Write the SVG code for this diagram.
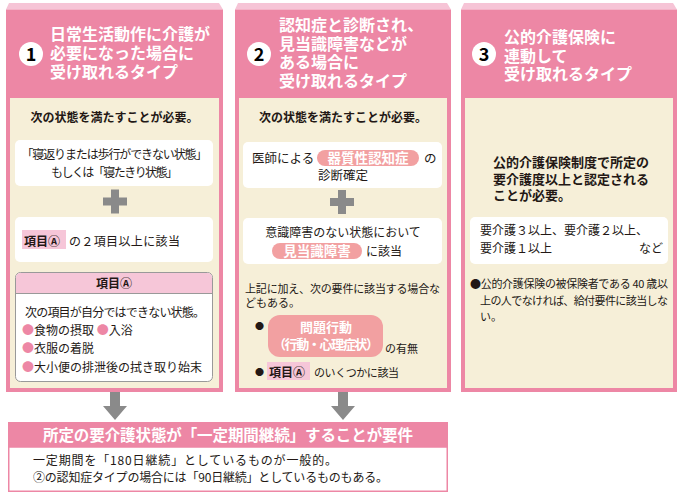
<svg xmlns="http://www.w3.org/2000/svg" width="681" height="498" viewBox="0 0 681 498">
<style>
text{font-family:"Noto Sans CJK JP","Noto Sans",sans-serif;fill:#231815}
.h{font-size:16px;font-weight:bold;fill:#fff}
.num{font-size:18px;font-weight:bold;fill:#000;text-anchor:middle}
.b{font-size:12px;font-weight:bold}
.t{font-size:12px}
.s{font-size:11px}
.c{text-anchor:middle}
.w{fill:#fff;font-weight:bold}
.pk{fill:#ED87A5}
.band{fill:#F6C4D6}
.cream{fill:#F6EFD8}
.box{fill:#fff}
.pill{fill:#F2A0A1}
.hl{fill:#F6C6D8}
.gray{fill:#8A8A8A}
.pb{fill:#ED87A5}
</style>

<g id="col1">
<polygon class="band" points="9,3 219,3 223,9.5 6,9.5"/>
<rect class="pk" x="6" y="9.5" width="217" height="382.5"/>
<rect class="cream" x="10" y="98" width="209" height="290"/>
<circle cx="31" cy="54" r="12" fill="#fff"/>
<text class="num" x="31" y="60.5">1</text>
<text class="h" x="50" y="40">日常生活動作に介護が</text>
<text class="h" x="50" y="59">必要になった場合に</text>
<text class="h" x="50" y="78">受け取れるタイプ</text>
<text class="b c" x="114.5" y="122">次の状態を満たすことが必要。</text>
<rect class="box" x="15" y="140" width="198" height="46" rx="5"/>
<text class="t c" x="114.5" y="159" textLength="186">「寝返りまたは歩行ができない状態」</text>
<text class="t c" x="114.5" y="177" textLength="127">もしくは「寝たきり状態」</text>
<rect class="gray" x="103" y="197.5" width="24" height="8"/>
<rect class="gray" x="111" y="189.5" width="8" height="24"/>
<rect class="box" x="15" y="217" width="198" height="45" rx="5"/>
<rect class="hl" x="22" y="230" width="44" height="19"/>
<text class="b" x="24" y="246">項目Ⓐ</text>
<text class="t" x="69" y="246" textLength="111">の２項目以上に該当</text>
<g id="itemA">
<rect x="15.5" y="272.5" width="197" height="109" rx="5" fill="#fff" stroke="#999" stroke-width="1"/>
<path d="M16,293 V277.5 A4.5,4.5 0 0 1 20.5,273 H207.5 A4.5,4.5 0 0 1 212,277.5 V293 Z" class="hl"/>
<line x1="15.5" y1="293.5" x2="212.5" y2="293.5" stroke="#999" stroke-width="1"/>
<text class="b c" x="114" y="288">項目Ⓐ</text>
<text class="t" x="25" y="317" textLength="180">次の項目が自分ではできない状態。</text>
<text class="t" x="22" y="335"><tspan class="pb">●</tspan>食物の摂取 <tspan class="pb">●</tspan>入浴</text>
<text class="t" x="22" y="353"><tspan class="pb">●</tspan>衣服の着脱</text>
<text class="t" x="22" y="372"><tspan class="pb">●</tspan>大小便の排泄後の拭き取り始末</text>
</g>
</g>

<g id="col2">
<polygon class="band" points="238,3 447,3 451,9.5 235,9.5"/>
<rect class="pk" x="235" y="9.5" width="216" height="382.5"/>
<rect class="cream" x="239" y="98" width="208" height="290"/>
<circle cx="259" cy="54" r="12" fill="#fff"/>
<text class="num" x="259" y="60.5">2</text>
<text class="h" x="279" y="31">認知症と診断され、</text>
<text class="h" x="279" y="49.5">見当識障害などが</text>
<text class="h" x="279" y="68">ある場合に</text>
<text class="h" x="279" y="86.5">受け取れるタイプ</text>
<text class="b c" x="343" y="122">次の状態を満たすことが必要。</text>
<rect class="box" x="243" y="142" width="199" height="46" rx="5"/>
<text class="t" x="252" y="163" style="font-size:12.5px">医師による</text>
<rect class="pill" x="317" y="150" width="102" height="16" rx="8"/>
<text class="w c" x="368" y="163" style="font-size:13.5px">器質性認知症</text>
<text class="t" x="424" y="163" style="font-size:12.5px">の</text>
<text class="t c" x="343" y="180" style="font-size:12.5px">診断確定</text>
<rect class="gray" x="330" y="198" width="24" height="8"/>
<rect class="gray" x="338" y="190" width="8" height="24"/>
<rect class="box" x="243" y="218" width="199" height="46" rx="5"/>
<text class="t c" x="343" y="237">意識障害のない状態において</text>
<rect class="pill" x="272" y="243" width="90" height="16" rx="8"/>
<text class="w c" x="317" y="256" style="font-size:13.5px">見当識障害</text>
<text class="t" x="366" y="256">に該当</text>
<text class="s" x="245" y="293" textLength="195">上記に加え、次の要件に該当する場合な</text>
<text class="s" x="245" y="307">どもある。</text>
<text x="255" y="329" style="font-size:9px">●</text>
<rect class="pill" x="268" y="315" width="115" height="42" rx="12"/>
<text class="w c" x="326" y="332" style="font-size:13px">問題行動</text>
<text class="w c" x="326" y="349" style="font-size:13px" textLength="106">（行動・心理症状）</text>
<text class="s" x="385" y="353">の有無</text>
<text x="255" y="375" style="font-size:9px">●</text>
<rect class="hl" x="267" y="362" width="43" height="18"/>
<text class="b" x="269" y="377">項目Ⓐ</text>
<text class="s" x="314" y="377" textLength="85">のいくつかに該当</text>
</g>

<g id="col3">
<polygon class="band" points="464,3 673,3 677,9.5 461,9.5"/>
<rect class="pk" x="461" y="9.5" width="216" height="382.5"/>
<rect class="cream" x="465" y="98" width="208" height="290"/>
<circle cx="484" cy="54" r="12" fill="#fff"/>
<text class="num" x="484" y="60.5">3</text>
<text class="h" x="504" y="43">公的介護保険に</text>
<text class="h" x="504" y="61.5">連動して</text>
<text class="h" x="504" y="80">受け取れるタイプ</text>
<text class="b" x="493" y="167" style="font-size:13px">公的介護保険制度で所定の</text>
<text class="b" x="493" y="184" style="font-size:13px">要介護度以上と認定される</text>
<text class="b" x="493" y="200" style="font-size:13px">ことが必要。</text>
<rect class="box" x="470" y="217" width="198" height="47" rx="5"/>
<text class="t" x="480" y="235" textLength="168">要介護３以上、要介護２以上、</text>
<text class="t" x="480" y="253">要介護１以上</text>
<text class="t" x="663" y="253" text-anchor="end">など</text>
<text class="s" x="470" y="288" textLength="198">●公的介護保険の被保険者である 40 歳以</text>
<text class="s" x="480" y="305" textLength="188">上の人でなければ、給付要件に該当しな</text>
<text class="s" x="480" y="321">い。</text>
</g>

<g id="connectors">
<path class="gray" d="M110,392 H120 V406 H127 L115,420 L103,406 H110 Z"/>
<path class="gray" d="M338,392 H348 V406 H355 L343,420 L331,406 H338 Z"/>
</g>

<g id="requirement">
<rect class="pk" x="8" y="422" width="440" height="25"/>
<rect x="8.75" y="447" width="438.5" height="44.25" fill="#fff" stroke="#ED87A5" stroke-width="1.5"/>
<text class="w c" x="228" y="441" style="font-size:15.5px" textLength="370">所定の要介護状態が「一定期間継続」することが要件</text>
<text class="t" x="33" y="465" textLength="304">一定期間を「180日継続」としているものが一般的。</text>
<text class="t" x="33" y="482" textLength="355">②の認知症タイプの場合には「90日継続」としているものもある。</text>
</g>
</svg>
